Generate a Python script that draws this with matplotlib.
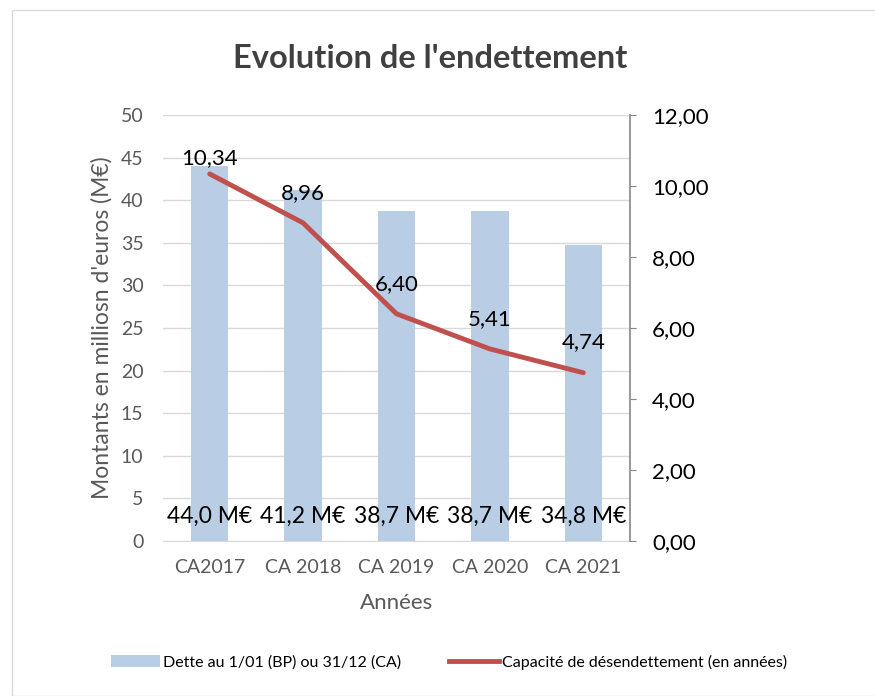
import matplotlib
matplotlib.use("Agg")
import matplotlib.pyplot as plt
from matplotlib.lines import Line2D
from matplotlib.patches import Patch, Rectangle

categories = ["CA2017", "CA 2018", "CA 2019", "CA 2020", "CA 2021"]
dette = [44.0, 41.2, 38.7, 38.7, 34.8]
capacite = [10.34, 8.96, 6.40, 5.41, 4.74]
left_ticks = [0, 5, 10, 15, 20, 25, 30, 35, 40, 45, 50]
right_ticks = [0, 2, 4, 6, 8, 10, 12]

plt.rcParams['font.family'] = ['Lato', 'DejaVu Sans']
txt = '#000000'
grey = '#595959'

fig = plt.figure(figsize=(8.75, 6.96), dpi=100)
fig.patches.append(Rectangle((12/875, 0), 1, 1 - 10/696, transform=fig.transFigure,
                             fill=False, edgecolor='#d9d9d9', linewidth=1))
ax = fig.add_axes([163/875, 1 - 541/696, 467/875, 426/696])
x = list(range(len(categories)))
ax.bar(x, dette, width=0.40, color='#b9cde5', zorder=2)
ax.set_xlim(-0.5, 4.5)
ax.set_ylim(0, 50)
ax.set_yticks(left_ticks)
ax.grid(axis='y', color='#d9d9d9', linewidth=1, zorder=0)
ax.set_axisbelow(True)
for s in ['top', 'right', 'left']:
    ax.spines[s].set_visible(False)
ax.spines['bottom'].set_color('#d9d9d9')
ax.tick_params(axis='both', length=0, labelsize=14, colors=grey)
ax.tick_params(axis='y', pad=14)
ax.tick_params(axis='x', pad=13)
ax.set_xticks(x)
ax.set_xticklabels(categories)
ax.set_xlabel("Années", fontsize=16, color=grey, labelpad=12)
ax.set_ylabel("Montants en milliosn d'euros (M€)", fontsize=16.5, color=grey, labelpad=6)
for i, v in enumerate(dette):
    ax.text(i, 2.9, f"{v:.1f} M€".replace('.', ','), ha='center', va='center',
            fontsize=16.5, color=txt, zorder=5)

ax2 = ax.twinx()
ax2.plot(x, capacite, color='#c0504d', linewidth=3.5, solid_capstyle='round', zorder=4)
ax2.set_ylim(0, 12)
ax2.set_yticks(right_ticks)
ax2.set_yticklabels([f"{t:.2f}".replace('.', ',') for t in right_ticks])
for s in ['top', 'left', 'bottom']:
    ax2.spines[s].set_visible(False)
ax2.spines['right'].set_color('#868686')
ax2.spines['right'].set_linewidth(1.2)
ax2.tick_params(axis='y', direction='out', length=4, color='#868686', labelsize=16,
                labelcolor=txt, pad=12)
for i, v in enumerate(capacite):
    ax2.text(i, min(v + 0.85, 10.8), f"{v:.2f}".replace('.', ','), ha='center',
             va='center', fontsize=16, color=txt, zorder=6)

fig.text(430/875, 1 - 58/696, "Evolution de l'endettement", ha='center', va='center',
         fontsize=23.5, fontweight='bold', color='#404040')

handles = [Patch(facecolor='#b9cde5', edgecolor='none'),
           Line2D([0], [0], color='#c0504d', linewidth=3.5)]
labels = ["Dette au 1/01 (BP) ou 31/12 (CA)", "Capacité de désendettement (en années)"]
fig.legend(handles, labels, loc='center', bbox_to_anchor=(449/875, 1 - 662/696),
           ncol=2, frameon=False, fontsize=11.5, handlelength=3.1, handletextpad=0.2,
           columnspacing=3.0, labelcolor=txt)

fig.savefig("out.png", dpi=100)
